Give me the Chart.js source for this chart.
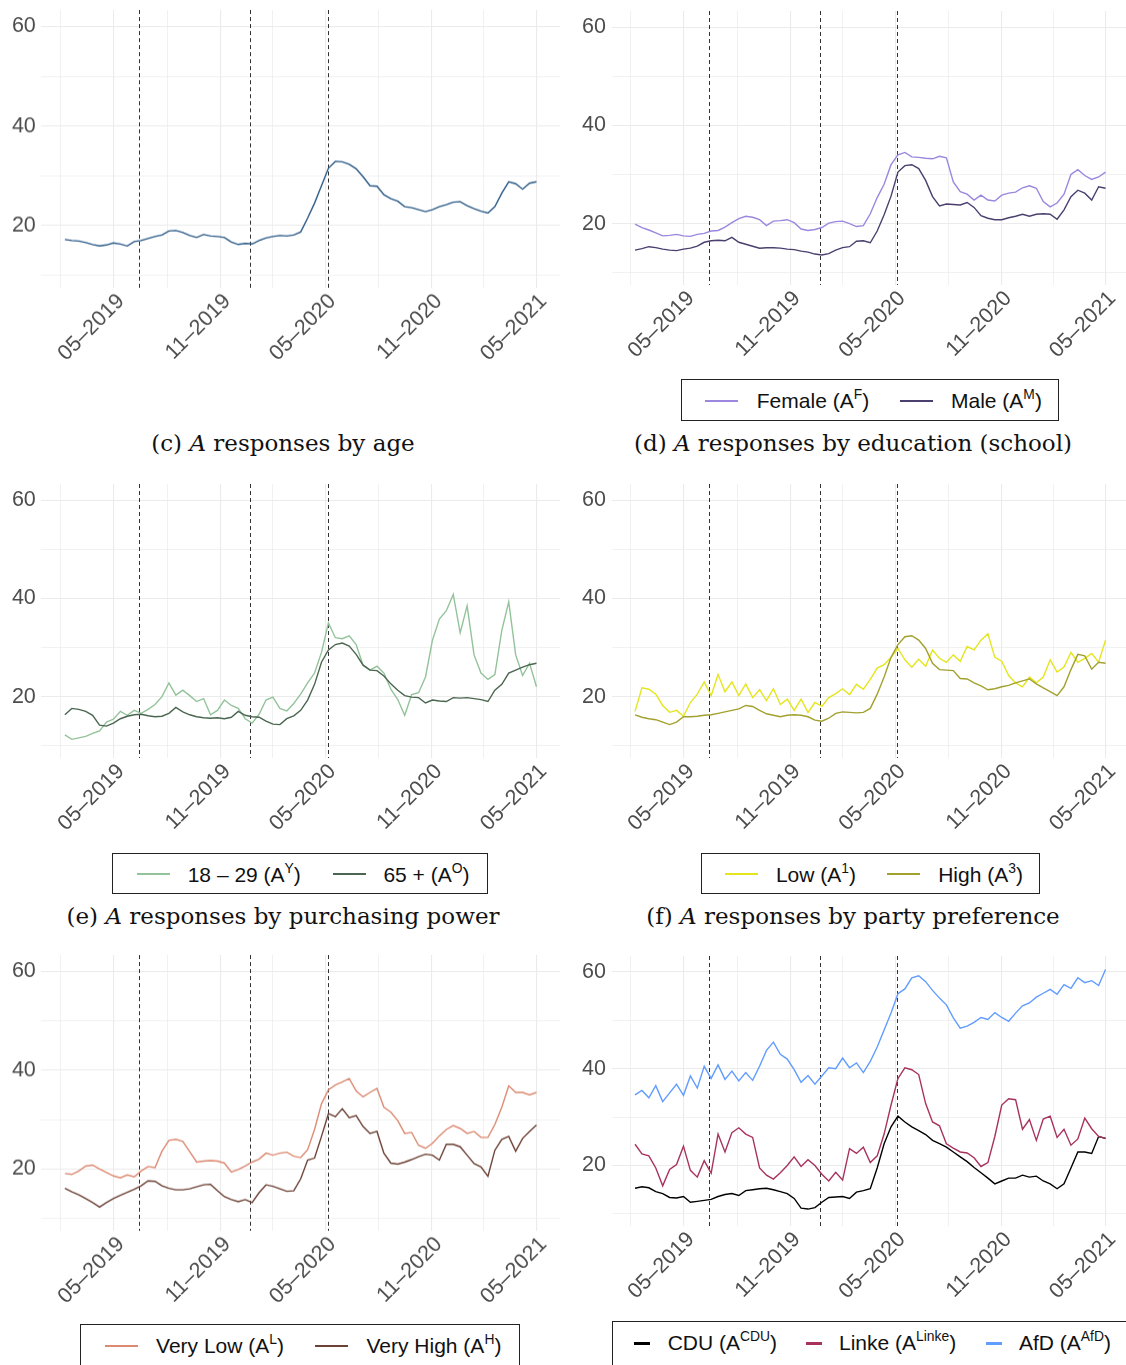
<!DOCTYPE html>
<html>
<head>
<meta charset="utf-8">
<script src="https://cdn.jsdelivr.net/npm/chart.js@4.4.1/dist/chart.umd.min.js"></script>
<style>
html, body { margin: 0; padding: 0; background: #fff; }
body { width: 1126px; height: 1365px; position: relative; overflow: hidden; font-family: 'Liberation Sans', Arial, sans-serif; }
canvas { position: absolute; }
.legend { position: absolute; border: 1px solid #222; box-sizing: border-box; }
.legend .swatch { position: absolute; height: 2px; }
.legend .lab { position: absolute; font-size: 21px; color: #111; white-space: nowrap; }
sup { font-size: 0.66em; vertical-align: 0.62em; line-height: 0; }
.caption { position: absolute; width: 566px; text-align: center; font-family: 'DejaVu Serif', serif; font-size: 23px; color: #111; white-space: nowrap; }
</style>
</head>
<body>
<canvas id="pc"></canvas>
<canvas id="pd"></canvas>
<canvas id="pe"></canvas>
<canvas id="pf"></canvas>
<canvas id="pg"></canvas>
<canvas id="ph"></canvas>
<script>
// days counted from 1 May 2019, one value every 12 days
const days = [-85, -73, -61, -49, -37, -25, -13, -1, 11, 23, 35, 47, 59, 71, 83, 95, 107, 119, 131, 143,
  155, 167, 179, 191, 203, 215, 227, 239, 251, 263, 275, 287, 299, 311, 323, 335, 347, 359, 371, 383,
  395, 407, 419, 431, 443, 455, 467, 479, 491, 503, 515, 527, 539, 551, 563, 575, 587, 599, 611, 623,
  635, 647, 659, 671, 683, 695, 707, 719, 731];

const xGridDays = [-92, 0, 92, 184, 275, 366, 458, 550, 640, 731];
const xTickDays = [0, 184, 366, 550, 731];
const xTickLabels = ['05–2019', '11–2019', '05–2020', '11–2020', '05–2021'];
const yGrid = [10, 20, 30, 40, 50, 60];
const yTickLabels = [20, 40, 60];
const eventDays = [44, 236, 370];

// (c) by age
const ageAll = [17.2, 17.0, 16.9, 16.6, 16.2, 15.9, 16.1, 16.5, 16.3, 15.9, 16.8, 17.0, 17.4, 17.8, 18.1, 18.9, 19.0, 18.6, 18.0, 17.6,
  18.2, 17.9, 17.8, 17.6, 16.7, 16.2, 16.4, 16.3, 17.0, 17.5, 17.8, 18.0, 17.9, 18.1, 18.7, 21.5, 24.5, 28.0, 31.5, 32.9,
  32.8, 32.3, 31.4, 29.8, 28.0, 27.9, 26.2, 25.4, 24.9, 23.8, 23.6, 23.2, 22.8, 23.2, 23.8, 24.2, 24.7, 24.8, 24.0, 23.4,
  22.9, 22.5, 23.8, 26.5, 28.8, 28.4, 27.3, 28.5, 28.8];

// (d) education
const eduFemale = [19.9, 19.2, 18.7, 18.1, 17.5, 17.6, 17.8, 17.5, 17.4, 17.8, 18.0, 18.5, 18.6, 19.3, 20.2, 21.0, 21.5, 21.3, 20.8, 19.6,
  20.5, 20.6, 20.8, 20.2, 18.9, 18.6, 18.8, 19.2, 20.1, 20.4, 20.5, 20.0, 19.4, 19.6, 22.0, 25.3, 28.0, 32.0, 34.0, 34.5,
  33.6, 33.5, 33.3, 33.2, 33.7, 33.4, 28.5, 26.5, 26.0, 24.8, 25.8, 24.8, 24.6, 25.8, 26.2, 26.4, 27.3, 27.7, 27.2, 24.5,
  23.4, 24.2, 26.0, 30.0, 31.0, 29.8, 29.0, 29.5, 30.5];
const eduMale = [14.6, 14.9, 15.3, 15.1, 14.8, 14.6, 14.5, 14.8, 15.0, 15.4, 16.2, 16.5, 16.6, 16.5, 17.2, 16.2, 15.8, 15.4, 15.0, 15.1,
  15.1, 15.0, 14.8, 14.7, 14.4, 14.2, 13.8, 13.6, 13.9, 14.6, 15.1, 15.3, 16.4, 16.5, 16.1, 18.5, 21.8, 25.6, 30.5, 31.8,
  32.0, 31.2, 28.8, 25.5, 23.6, 24.0, 23.9, 23.8, 24.3, 23.3, 21.6, 21.1, 20.8, 20.8, 21.2, 21.5, 21.9, 21.5, 21.9, 22.0,
  21.9, 20.9, 22.8, 25.5, 26.8, 26.2, 24.8, 27.5, 27.2];

// (e) 18-29 vs 65+
const ageYoung = [12.2, 11.3, 11.6, 11.9, 12.5, 13.0, 14.8, 15.4, 17.0, 16.2, 17.2, 16.6, 17.4, 18.4, 20.0, 22.8, 20.3, 21.3, 20.2, 19.0,
  19.6, 16.3, 17.2, 19.3, 18.2, 17.6, 15.5, 14.6, 16.4, 19.3, 19.9, 17.6, 17.1, 18.6, 20.5, 22.8, 24.8, 29.0, 35.0, 32.0,
  31.8, 32.4, 30.6, 26.4, 25.4, 26.2, 24.8, 21.5, 19.4, 16.2, 20.4, 20.8, 24.0, 31.5, 35.8, 37.5, 40.8, 33.0, 38.5, 28.5,
  24.8, 23.5, 24.5, 33.5, 39.3, 28.5, 24.3, 26.8, 22.0];
const ageOld = [16.3, 17.6, 17.4, 17.0, 16.2, 14.2, 14.0, 14.6, 15.5, 16.0, 16.3, 16.4, 16.1, 15.9, 16.0, 16.6, 17.8, 16.9, 16.3, 15.9,
  15.7, 15.6, 15.7, 15.5, 15.8, 17.0, 16.2, 15.9, 15.8, 15.0, 14.4, 14.3, 15.5, 16.1, 17.2, 19.3, 22.5, 27.0, 29.5, 30.6,
  30.9, 30.3, 28.6, 26.4, 25.4, 25.3, 24.2, 22.6, 21.3, 20.2, 19.9, 19.8, 18.7, 19.3, 19.1, 19.0, 19.8, 19.7, 19.8, 19.6,
  19.4, 19.0, 21.3, 22.5, 24.8, 25.4, 26.0, 26.5, 26.8];

// (f) low vs high
const levelLow = [17.0, 21.8, 21.5, 20.5, 18.2, 16.8, 17.2, 16.0, 18.8, 20.5, 23.0, 20.2, 24.5, 21.0, 23.0, 20.2, 22.6, 19.8, 21.4, 19.2,
  21.6, 18.4, 19.5, 17.2, 19.5, 16.8, 18.8, 18.0, 19.8, 20.6, 21.6, 20.4, 22.5, 21.5, 23.5, 25.8, 26.5, 28.0, 29.8, 27.5,
  26.0, 27.6, 26.2, 29.5, 27.8, 27.0, 28.5, 27.2, 30.2, 29.5, 31.5, 32.8, 28.0, 27.2, 24.3, 22.8, 22.0, 24.0, 22.8, 24.0,
  27.5, 25.0, 26.0, 29.0, 27.0, 27.8, 28.8, 27.0, 31.5];
const levelHigh = [16.3, 15.8, 15.5, 15.3, 14.8, 14.3, 14.8, 15.9, 15.9, 16.0, 16.2, 16.3, 16.6, 16.9, 17.2, 17.5, 18.2, 18.0, 17.2, 16.5,
  16.2, 15.9, 16.2, 16.3, 16.2, 15.9, 15.2, 15.0, 15.6, 16.6, 16.9, 16.8, 16.7, 16.8, 17.6, 20.5, 24.0, 28.0, 30.6, 32.2,
  32.4, 31.5, 29.8, 26.8, 25.5, 25.4, 25.3, 23.7, 23.6, 22.8, 22.2, 21.4, 21.6, 22.0, 22.3, 22.8, 23.2, 23.6, 22.6, 21.8,
  21.0, 20.2, 22.0, 25.5, 28.6, 28.3, 25.6, 27.0, 26.8];

// (g) very low vs very high
const veryLow = [19.1, 18.9, 19.6, 20.6, 20.8, 20.0, 19.3, 18.6, 18.2, 18.8, 18.4, 19.6, 20.5, 20.3, 23.6, 25.8, 26.0, 25.6, 23.5, 21.4,
  21.6, 21.7, 21.6, 21.2, 19.4, 19.9, 20.6, 21.4, 22.0, 23.2, 22.8, 23.2, 23.4, 22.6, 22.3, 23.9, 28.0, 33.2, 36.0, 37.0,
  37.6, 38.3, 35.8, 34.6, 35.5, 36.3, 32.5, 31.5, 29.8, 27.2, 27.4, 24.8, 24.2, 25.2, 26.7, 28.0, 28.8, 28.2, 27.2, 27.6,
  26.4, 26.4, 29.0, 32.5, 36.8, 35.5, 35.5, 35.0, 35.5];
const veryHigh = [16.1, 15.4, 14.8, 14.0, 13.2, 12.3, 13.2, 14.0, 14.7, 15.3, 15.9, 16.6, 17.6, 17.5, 16.6, 16.1, 15.8, 15.8, 16.0, 16.4,
  16.8, 16.9, 15.6, 14.4, 13.8, 13.4, 13.8, 13.2, 15.2, 16.8, 16.5, 16.0, 15.5, 15.6, 18.0, 21.8, 22.2, 26.6, 31.2, 30.6,
  32.2, 30.4, 30.8, 28.6, 27.2, 27.6, 23.2, 21.2, 21.0, 21.4, 21.9, 22.5, 23.0, 22.8, 21.8, 25.0, 25.0, 24.5, 22.8, 21.1,
  20.4, 18.5, 23.8, 26.0, 26.6, 23.6, 26.2, 27.6, 28.9];

// (h) parties
const cdu = [15.3, 15.6, 15.4, 14.6, 14.2, 13.4, 13.3, 13.6, 12.4, 12.6, 12.8, 13.0, 13.6, 14.0, 14.2, 13.8, 14.8, 15.0, 15.2, 15.3,
  15.0, 14.6, 14.2, 13.2, 11.2, 11.0, 11.3, 12.4, 13.4, 13.5, 13.6, 13.2, 14.5, 14.8, 15.2, 19.5, 24.5, 28.0, 30.2, 29.0,
  28.0, 27.2, 26.4, 25.2, 24.5, 23.8, 22.8, 21.8, 20.8, 19.6, 18.5, 17.4, 16.2, 16.8, 17.4, 17.4, 18.0, 17.6, 17.8, 16.8,
  16.2, 15.2, 16.2, 19.5, 22.8, 22.8, 22.5, 26.0, 25.6];
const linke = [24.4, 22.4, 22.0, 19.5, 15.8, 19.2, 20.2, 24.0, 19.0, 17.6, 21.0, 18.4, 26.5, 22.8, 26.8, 27.8, 26.5, 25.8, 19.5, 18.0,
  17.2, 18.5, 20.0, 21.8, 19.8, 21.2, 20.0, 18.2, 16.8, 18.6, 17.0, 23.5, 22.5, 23.8, 20.6, 22.0, 26.5, 32.5, 38.0, 40.2,
  39.8, 38.8, 32.8, 29.0, 28.2, 24.5, 23.6, 22.8, 22.6, 21.6, 19.8, 20.6, 26.0, 32.5, 33.8, 33.6, 27.5, 29.5, 25.2, 29.6,
  30.2, 25.8, 27.5, 24.2, 25.5, 29.8, 27.6, 26.0, 25.6];
const afd = [34.6, 35.5, 34.0, 36.5, 33.2, 35.0, 36.8, 34.5, 38.5, 36.0, 40.5, 38.0, 40.8, 37.8, 39.5, 37.5, 39.2, 37.6, 40.5, 43.8,
  45.5, 43.0, 42.0, 39.8, 37.2, 38.6, 36.8, 38.5, 40.2, 40.0, 42.2, 40.2, 41.2, 39.2, 41.5, 44.5, 48.0, 51.5, 55.5, 56.5,
  58.8, 59.2, 58.0, 56.2, 54.6, 53.2, 50.5, 48.4, 48.8, 49.6, 50.6, 50.2, 51.6, 50.6, 49.8, 51.5, 53.0, 53.6, 54.8, 55.6,
  56.4, 55.4, 57.4, 56.6, 58.8, 57.8, 58.2, 57.2, 60.5];

const panels = [
  { id: 'pc', left: 0, top: 10.3, plotH: 277.6, axisW: 41.3, width: 560,
    series: [{ label: 'All', values: ageAll, color: '#2c5b88' }] },
  { id: 'pd', left: 570, top: 10.5, plotH: 274.3, axisW: 41.5, width: 559,
    series: [{ label: 'Female', values: eduFemale, color: '#9b87de' },
             { label: 'Male', values: eduMale, color: '#4a3f6e' }] },
  { id: 'pe', left: 0, top: 483.8, plotH: 274.4, axisW: 41.3, width: 560,
    series: [{ label: '18 – 29', values: ageYoung, color: '#93c39a' },
             { label: '65 +', values: ageOld, color: '#4b6650' }] },
  { id: 'pf', left: 570, top: 483.8, plotH: 274.4, axisW: 41.5, width: 559,
    series: [{ label: 'Low', values: levelLow, color: '#e5e51f' },
             { label: 'High', values: levelHigh, color: '#a3a12d' }] },
  { id: 'pg', left: 0, top: 955.4, plotH: 275.3, axisW: 41.3, width: 560,
    series: [{ label: 'Very Low', values: veryLow, color: '#dc8a72' },
             { label: 'Very High', values: veryHigh, color: '#6d4236' }] },
  { id: 'ph', left: 570, top: 955.7, plotH: 270.6, axisW: 41.5, width: 559,
    series: [{ label: 'CDU', values: cdu, color: '#000000' },
             { label: 'Linke', values: linke, color: '#a8325e' },
             { label: 'AfD', values: afd, color: '#619cff' }] }
];

const X_AXIS_H = 90;

const eventLines = {
  id: 'eventLines',
  beforeDatasetsDraw(chart) {
    const { ctx, chartArea: a, scales: { x } } = chart;
    ctx.save();
    ctx.strokeStyle = '#333';
    ctx.lineWidth = 1;
    ctx.setLineDash([4, 3]);
    eventDays.forEach(d => {
      const px = Math.round(x.getPixelForValue(d)) + 0.5;
      ctx.beginPath();
      ctx.moveTo(px, a.top);
      ctx.lineTo(px, a.bottom);
      ctx.stroke();
    });
    ctx.restore();
  }
};

Chart.defaults.font.family = "'Liberation Sans', Arial, sans-serif";

panels.forEach(p => {
  const cv = document.getElementById(p.id);
  const h = p.plotH + X_AXIS_H;
  cv.width = p.width;
  cv.height = h;
  cv.style.left = p.left + 'px';
  cv.style.top = p.top + 'px';
  cv.style.width = p.width + 'px';
  cv.style.height = h + 'px';

  const n = p.series.length;
  new Chart(cv.getContext('2d'), {
    type: 'line',
    data: {
      datasets: p.series.map((s, i) => ({
        label: s.label,
        data: days.map((d, k) => ({ x: d, y: s.values[k] })),
        borderColor: s.color,
        borderWidth: 1.4,
        pointRadius: 0,
        tension: 0,
        fill: false,
        order: n - i
      }))
    },
    options: {
      responsive: false,
      animation: false,
      layout: { padding: 0 },
      plugins: { legend: { display: false }, tooltip: { enabled: false } },
      scales: {
        x: {
          type: 'linear',
          min: -125.8,
          max: 771.7,
          afterBuildTicks: axis => { axis.ticks = xGridDays.map(v => ({ value: v })); },
          afterFit: axis => {
            axis.height = X_AXIS_H;
            axis.paddingLeft = 0;
            axis.paddingRight = 0;
          },
          border: { display: false },
          grid: {
            color: '#ebebeb',
            drawTicks: false,
            lineWidth: ctx => (ctx.tick && xTickDays.includes(ctx.tick.value)) ? 1.1 : 0.7
          },
          ticks: {
            autoSkip: false,
            maxRotation: 45,
            minRotation: 45,
            padding: 1,
            labelOffset: 7,
            color: '#4d4d4d',
            font: { size: 21.5 },
            callback: v => {
              const k = xTickDays.indexOf(v);
              return k >= 0 ? xTickLabels[k] : '';
            }
          }
        },
        y: {
          min: 7.5,
          max: 63.3,
          afterBuildTicks: axis => { axis.ticks = yGrid.map(v => ({ value: v })); },
          afterFit: axis => {
            axis.width = p.axisW;
            axis.paddingTop = 0;
            axis.paddingBottom = 0;
          },
          border: { display: false },
          grid: {
            color: '#ebebeb',
            drawTicks: false,
            lineWidth: ctx => (ctx.tick && yTickLabels.includes(ctx.tick.value)) ? 1.1 : 0.7
          },
          ticks: {
            padding: 5.5,
            color: '#4d4d4d',
            font: { size: 21.5 },
            callback: v => yTickLabels.includes(v) ? String(v) : ''
          }
        }
      }
    },
    plugins: [eventLines]
  });
});

// legends
const legends = [
  { left: 680.8, top: 379.3, width: 378.4, height: 41.4, swW: 33,
    items: [{ sx: 704, tx: 755.8, color: '#9b87de', html: 'Female (A<sup>F</sup>)' },
            { sx: 898.7, tx: 950, color: '#4a3f6e', html: 'Male (A<sup>M</sup>)' }] },
  { left: 112.4, top: 852.7, width: 376, height: 41.3, swW: 33,
    items: [{ sx: 135.7, tx: 186.7, color: '#93c39a', html: '18 – 29 (A<sup>Y</sup>)' },
            { sx: 332.1, tx: 382.4, color: '#4b6650', html: '65 + (A<sup>O</sup>)' }] },
  { left: 700.5, top: 852.7, width: 339.3, height: 41.3, swW: 33,
    items: [{ sx: 723.9, tx: 774.9, color: '#e5e51f', html: 'Low (A<sup>1</sup>)' },
            { sx: 886.2, tx: 937.2, color: '#a3a12d', html: 'High (A<sup>3</sup>)' }] },
  { left: 79.7, top: 1324.3, width: 440.2, height: 60, swW: 33,
    items: [{ sx: 104.1, tx: 155.1, color: '#dc8a72', html: 'Very Low (A<sup>L</sup>)' },
            { sx: 314.2, tx: 365.5, color: '#6d4236', html: 'Very High (A<sup>H</sup>)' }] },
  { left: 611.5, top: 1321, width: 540, height: 60, swW: 16,
    items: [{ sx: 633, tx: 666.7, color: '#000000', html: 'CDU (A<sup>CDU</sup>)' },
            { sx: 805, tx: 838, color: '#a8325e', html: 'Linke (A<sup>Linke</sup>)' },
            { sx: 985, tx: 1018, color: '#619cff', html: 'AfD (A<sup>AfD</sup>)' }] }
];

legends.forEach(L => {
  const box = document.createElement('div');
  box.className = 'legend';
  Object.assign(box.style, { left: L.left + 'px', top: L.top + 'px', width: L.width + 'px', height: L.height + 'px' });
  const mid = 41.4 / 2;
  L.items.forEach(it => {
    const sw = document.createElement('div');
    sw.className = 'swatch';
    Object.assign(sw.style, { left: (it.sx - L.left) + 'px', top: (mid - 1) + 'px', width: L.swW + 'px', background: it.color,
      height: L.swW < 20 ? '3px' : '2px' });
    box.appendChild(sw);
    const lab = document.createElement('div');
    lab.className = 'lab';
    lab.innerHTML = it.html;
    Object.assign(lab.style, { left: (it.tx - L.left) + 'px', top: '0px', lineHeight: '41px' });
    box.appendChild(lab);
  });
  document.body.appendChild(box);
});

// captions
const captions = [
  { cx: 283, cy: 443, html: '(c) <i>A</i> responses by age' },
  { cx: 853, cy: 443, html: '(d) <i>A</i> responses by education (school)' },
  { cx: 283, cy: 916, html: '(e) <i>A</i> responses by purchasing power' },
  { cx: 853, cy: 916, html: '(f) <i>A</i> responses by party preference' }
];
captions.forEach(c => {
  const el = document.createElement('div');
  el.className = 'caption';
  el.innerHTML = c.html;
  Object.assign(el.style, { left: (c.cx - 283) + 'px', top: (c.cy - 15) + 'px', lineHeight: '30px' });
  document.body.appendChild(el);
});
</script>
</body>
</html>
